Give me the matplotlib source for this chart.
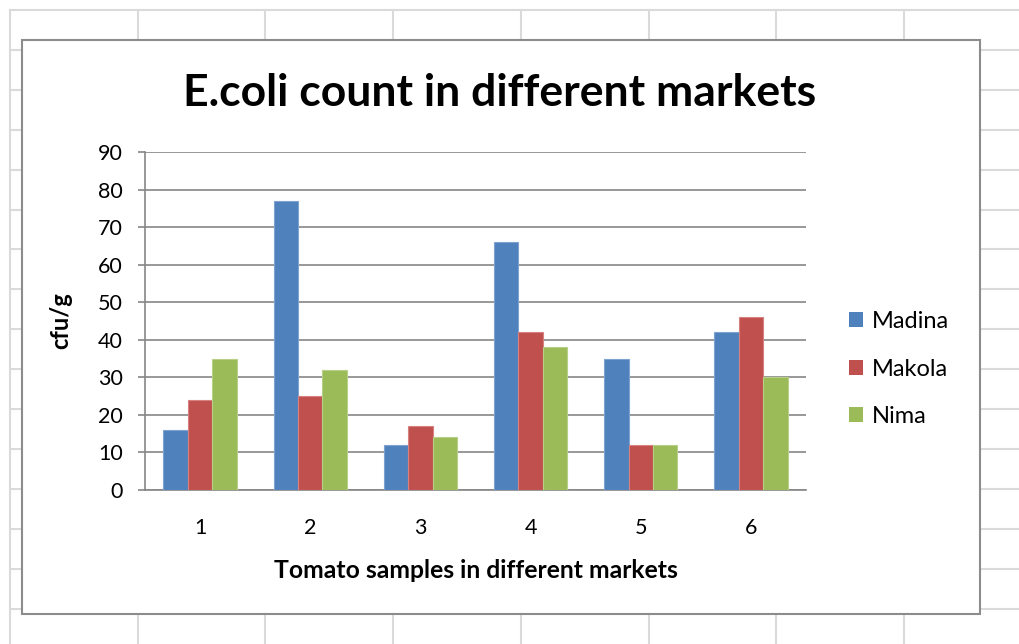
import numpy as np
import matplotlib
matplotlib.use("Agg")
import matplotlib.pyplot as plt
from matplotlib.patches import Rectangle, Patch
from matplotlib.lines import Line2D

plt.rcParams['font.family'] = ['Lato', 'DejaVu Sans']

# data
samples = ['1', '2', '3', '4', '5', '6']
madina = [16, 77, 12, 66, 35, 42]
makola = [24, 25, 17, 42, 12, 46]
nima = [35, 32, 14, 38, 12, 30]
series = ['Madina', 'Makola', 'Nima']
colors = ['#4F81BD', '#C0504D', '#9BBB59']
edges = ['#7FA3D0', '#D58280', '#B7CF86']

W, H = 1019, 644
fig = plt.figure(figsize=(W / 100, H / 100), dpi=100)
fig.patch.set_facecolor('white')

def fx(px):
    return px / W

def fy(py):
    return 1 - py / H

# spreadsheet cells behind the chart
for x in np.arange(10, W, 127.7):
    fig.add_artist(Line2D([fx(x), fx(x)], [fy(10), 0], color='#dadada', lw=1.5, zorder=0))
for y in np.arange(10, H, 39.9):
    fig.add_artist(Line2D([fx(10), 1], [fy(y), fy(y)], color='#dadada', lw=1.5, zorder=0))

# chart area frame
fig.add_artist(Rectangle((fx(22), fy(614)), fx(980) - fx(22), fy(40) - fy(614),
                         facecolor='white', edgecolor='#8c8c8c', lw=1.5, zorder=1))

ax = fig.add_axes([fx(145), fy(490), fx(806) - fx(145), fy(152) - fy(490)], zorder=2)
ax.set_facecolor('none')

x = np.arange(len(samples))
w = 1 / 4.5
for i, (vals, c, ec) in enumerate(zip([madina, makola, nima], colors, edges)):
    ax.bar(x + (i - 1) * w, vals, w, color=c, edgecolor=ec, linewidth=0.8, zorder=3, label=series[i])

ax.set_xlim(-0.5, len(samples) - 0.5)
ax.set_ylim(0, 90)
ax.set_yticks(range(0, 91, 10))
ax.set_xticks(x)
ax.set_xticklabels(samples)
ax.yaxis.grid(True, color='#868686', lw=1.2, zorder=0)
ax.set_axisbelow(True)
for s in ['top', 'right']:
    ax.spines[s].set_visible(False)
for s in ['left', 'bottom']:
    ax.spines[s].set_color('#868686')
    ax.spines[s].set_linewidth(1.2)
ax.tick_params(axis='y', length=5, width=1.2, color='#868686', pad=11, labelsize=15.5)
ax.tick_params(axis='x', length=0, pad=20, labelsize=15.5)

ax.set_ylabel('cfu/g', fontsize=17, fontweight='bold')
ax.yaxis.set_label_coords(-0.110, 0.5)
ax.set_xlabel('Tomato samples in different markets', fontsize=17.8, fontweight='bold')
ax.xaxis.set_label_coords(0.5, -0.205)

fig.text(fx(500), fy(106), 'E.coli count in different markets', fontsize=32,
         fontweight='bold', ha='center', va='baseline')

handles = [Patch(facecolor=c, edgecolor='none') for c in colors]
fig.legend(handles, series, loc='center left', bbox_to_anchor=(fx(849), fy(369)),
           frameon=False, fontsize=17, handlelength=0.6, handleheight=0.58,
           handletextpad=0.35, labelspacing=1.12, borderpad=0, borderaxespad=0)

fig.savefig('out.png', dpi=100)
